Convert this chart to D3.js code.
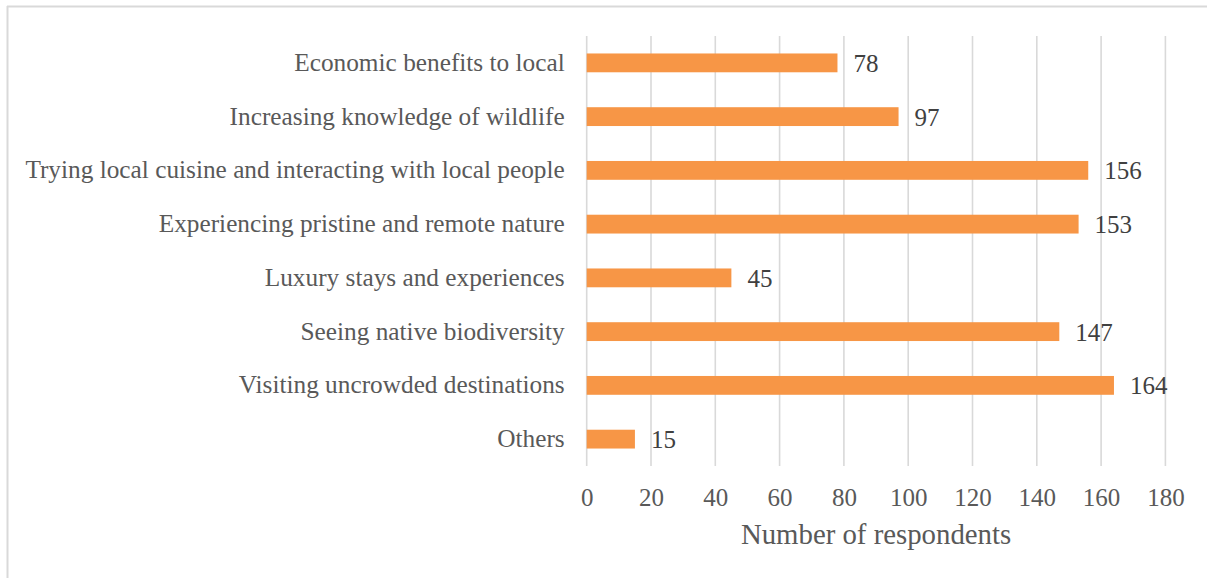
<!DOCTYPE html>
<html>
<head>
<meta charset="utf-8">
<script src="https://cdn.jsdelivr.net/npm/d3@7"></script>
<style>
  html, body { margin: 0; padding: 0; background: #fff; }
  svg { display: block; }
  text { font-family: "Liberation Serif", "Times New Roman", serif; }
</style>
</head>
<body>
<svg id="chart" width="1207" height="578"></svg>
<script>
// Survey answers: number of respondents per motivation
const categories = [
  "Economic benefits to local",
  "Increasing knowledge of wildlife",
  "Trying local cuisine and interacting with local people",
  "Experiencing pristine and remote nature",
  "Luxury stays and experiences",
  "Seeing native biodiversity",
  "Visiting uncrowded destinations",
  "Others"
];
const respondents = [78, 97, 156, 153, 45, 147, 164, 15];
const xTicks = [0, 20, 40, 60, 80, 100, 120, 140, 160, 180];
const xTitle = "Number of respondents";

const svg = d3.select("#chart");
const W = 1207, H = 578;

// Frame (top and left edges)
svg.append("line").attr("x1", 7).attr("x2", W).attr("y1", 6.5).attr("y2", 6.5)
  .attr("stroke", "#d9d9d9").attr("stroke-width", 2);
svg.append("line").attr("x1", 7.5).attr("x2", 7.5).attr("y1", 6).attr("y2", H)
  .attr("stroke", "#d9d9d9").attr("stroke-width", 2);

const plot = { left: 586.7, right: 1165.4, top: 36, bottom: 466 };

const x = d3.scaleLinear().domain([0, 180]).range([plot.left, plot.right]);
const y = d3.scaleBand().domain(categories).range([plot.top, plot.bottom]).paddingInner(0.65).paddingOuter(0.325);

// Vertical gridlines
svg.append("g").selectAll("line").data(xTicks).join("line")
  .attr("x1", d => x(d)).attr("x2", d => x(d))
  .attr("y1", plot.top).attr("y2", plot.bottom)
  .attr("stroke", "#d9d9d9").attr("stroke-width", 1.6);

// Bars
svg.append("g").selectAll("rect").data(categories).join("rect")
  .attr("x", x(0))
  .attr("y", d => y(d))
  .attr("width", (d, i) => x(respondents[i]) - x(0))
  .attr("height", y.bandwidth())
  .attr("fill", "#f79646");

// Value labels
svg.append("g").selectAll("text").data(categories).join("text")
  .attr("x", (d, i) => x(respondents[i]) + 16)
  .attr("y", d => y(d) + y.bandwidth() / 2 + 9)
  .attr("font-size", 25)
  .attr("fill", "#404040")
  .text((d, i) => respondents[i]);

// Category axis labels
const yAxis = d3.axisLeft(y).tickSize(0).tickPadding(22);
const gy = svg.append("g").attr("transform", `translate(${plot.left},0)`).call(yAxis);
gy.select(".domain").remove();
gy.selectAll("text")
  .attr("font-size", 25.3)
  .attr("font-family", "Liberation Serif, serif")
  .attr("fill", "#595959")
  .attr("dy", null)
  .attr("dominant-baseline", "auto")
  .attr("y", 8);

// Value axis labels
const xAxis = d3.axisBottom(x).tickValues(xTicks).tickSize(0).tickPadding(0);
const gx = svg.append("g").attr("transform", `translate(0,${plot.bottom})`).call(xAxis);
gx.select(".domain").remove();
gx.selectAll("text")
  .attr("font-size", 25)
  .attr("font-family", "Liberation Serif, serif")
  .attr("fill", "#595959")
  .attr("dy", null)
  .attr("y", 40);

// Axis title
svg.append("text")
  .attr("x", (plot.left + plot.right) / 2)
  .attr("y", 544)
  .attr("text-anchor", "middle")
  .attr("font-size", 28.8)
  .attr("fill", "#595959")
  .text(xTitle);
</script>
</body>
</html>
